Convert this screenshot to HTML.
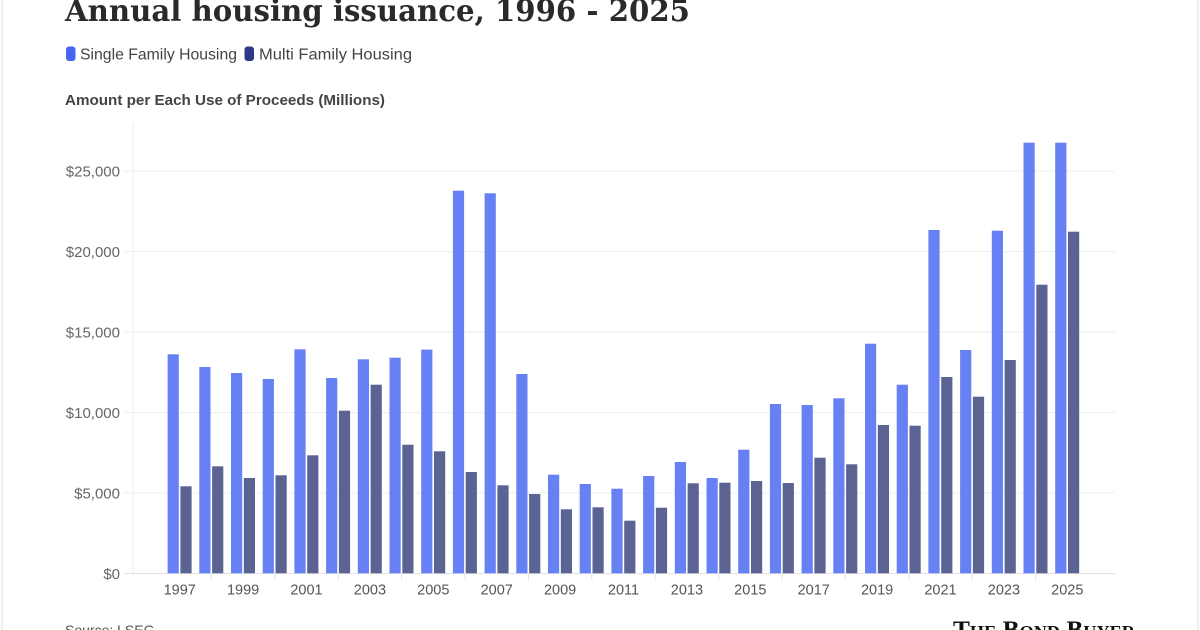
<!DOCTYPE html>
<html>
<head>
<meta charset="utf-8">
<style>
  html,body{margin:0;padding:0;background:#fff;}
  body{width:1200px;height:630px;overflow:hidden;}
  svg{display:block;}
</style>
</head>
<body>
<svg width="1200" height="630" viewBox="0 0 1200 630" xmlns="http://www.w3.org/2000/svg">
  <rect x="0" y="0" width="1200" height="630" fill="#fff"/>
  <!-- page borders -->
  <line x1="2" y1="0" x2="2" y2="630" stroke="#e4e4e4" stroke-width="1.2"/>
  <line x1="1198" y1="0" x2="1198" y2="630" stroke="#e4e4e4" stroke-width="1.2"/>

  <!-- Title -->
  <text x="65" y="21" font-family="'DejaVu Serif','Liberation Serif',serif" font-weight="bold" font-size="30" fill="#2a2a2a" textLength="625" lengthAdjust="spacingAndGlyphs">Annual housing issuance, 1996 - 2025</text>

  <!-- Legend -->
  <rect x="66" y="46.5" width="9.5" height="14.5" rx="3" fill="#4466f2"/>
  <text x="80" y="59.5" font-family="'Liberation Sans',sans-serif" font-size="16" fill="#444" textLength="157" lengthAdjust="spacingAndGlyphs">Single Family Housing</text>
  <rect x="244.5" y="46.5" width="9.5" height="14.5" rx="3" fill="#2f3a86"/>
  <text x="259" y="59.5" font-family="'Liberation Sans',sans-serif" font-size="16" fill="#444" textLength="153" lengthAdjust="spacingAndGlyphs">Multi Family Housing</text>

  <!-- Axis title -->
  <text x="65" y="105" font-family="'Liberation Sans',sans-serif" font-weight="bold" font-size="15" fill="#444" textLength="320" lengthAdjust="spacingAndGlyphs">Amount per Each Use of Proceeds (Millions)</text>

  <!-- Gridlines -->
  <g stroke="#eeeeee" stroke-width="1">
    <line x1="124" y1="171" x2="1115" y2="171"/>
    <line x1="124" y1="251.6" x2="1115" y2="251.6"/>
    <line x1="124" y1="332.1" x2="1115" y2="332.1"/>
    <line x1="124" y1="412.6" x2="1115" y2="412.6"/>
    <line x1="124" y1="493" x2="1115" y2="493"/>
    <line x1="133" y1="123" x2="133" y2="574"/>
  </g>
  <line x1="124" y1="573.5" x2="1115" y2="573.5" stroke="#e2e2e2" stroke-width="1"/>

  <!-- Y labels -->
  <g font-family="'Liberation Sans',sans-serif" font-size="15" fill="#666" text-anchor="end">
    <text x="120" y="176.5">$25,000</text>
    <text x="120" y="257">$20,000</text>
    <text x="120" y="337.5">$15,000</text>
    <text x="120" y="418">$10,000</text>
    <text x="120" y="498.5">$5,000</text>
    <text x="120" y="579">$0</text>
  </g>

  <!-- Bars -->
  <g id="bars"></g>

  <!-- X ticks -->
  <g id="ticks" stroke="#e4e4e4" stroke-width="1"></g>

  <!-- X labels -->
  <g font-family="'Liberation Sans',sans-serif" font-size="14.5" fill="#555" text-anchor="middle">
    <text x="179.7" y="594.5">1997</text>
    <text x="243.1" y="594.5">1999</text>
    <text x="306.5" y="594.5">2001</text>
    <text x="369.9" y="594.5">2003</text>
    <text x="433.3" y="594.5">2005</text>
    <text x="496.7" y="594.5">2007</text>
    <text x="560.1" y="594.5">2009</text>
    <text x="623.5" y="594.5">2011</text>
    <text x="686.9" y="594.5">2013</text>
    <text x="750.3" y="594.5">2015</text>
    <text x="813.7" y="594.5">2017</text>
    <text x="877.1" y="594.5">2019</text>
    <text x="940.5" y="594.5">2021</text>
    <text x="1003.9" y="594.5">2023</text>
    <text x="1067.3" y="594.5">2025</text>
  </g>

  <!-- Source -->
  <text x="65" y="635" font-family="'Liberation Sans',sans-serif" font-size="14" fill="#555">Source: LSEG</text>

  <!-- Logo -->
  <text x="953" y="638" font-family="'Liberation Serif',serif" font-weight="bold" font-size="25" fill="#111" style="font-variant:small-caps" textLength="182" lengthAdjust="spacingAndGlyphs">The Bond Buyer</text>

  <script>
    (function(){
      var S=[354.3,367,373,379,349.3,378,359.3,357.7,349.6,190.7,193.3,374,474.7,484,488.7,476,462,478,449.7,404,405,398.3,343.7,384.7,230,350,230.7,142.7,142.7];
      var M=[486.3,466.3,478,475.3,455.3,410.7,384.7,444.7,451.3,472,485.3,494,509.3,507.3,520.7,507.7,483.3,482.7,481,483,457.7,464.3,425,425.7,377,396.7,360,284.7,231.7];
      var base=573.3, ns="http://www.w3.org/2000/svg";
      var g=document.getElementById("bars"), t=document.getElementById("ticks");
      for(var i=0;i<29;i++){
        var xs=167.6+i*31.7;
        var r=document.createElementNS(ns,"rect");
        r.setAttribute("x",xs);r.setAttribute("y",S[i]);r.setAttribute("width",11.2);r.setAttribute("height",base-S[i]);
        r.setAttribute("fill","#6781f5");g.appendChild(r);
        var r2=document.createElementNS(ns,"rect");
        r2.setAttribute("x",xs+12.8);r2.setAttribute("y",M[i]);r2.setAttribute("width",11.2);r2.setAttribute("height",base-M[i]);
        r2.setAttribute("fill","#5b6393");g.appendChild(r2);
        if(i%2===1){
          var l=document.createElementNS(ns,"line");
          var cx=179.7+i*31.7;
          l.setAttribute("x1",cx);l.setAttribute("x2",cx);l.setAttribute("y1",574);l.setAttribute("y2",580);
          t.appendChild(l);
        }
      }
    })();
  </script>
</svg>
</body>
</html>
